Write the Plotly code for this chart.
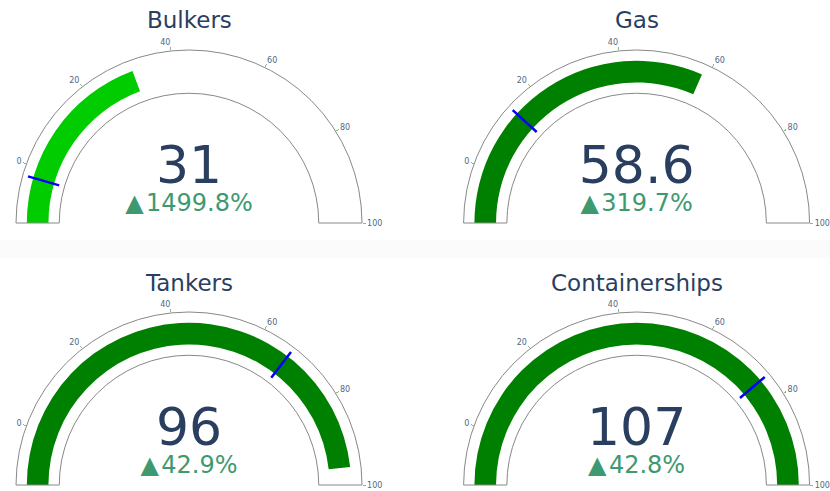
import plotly.graph_objects as go

categories = ["Bulkers", "Gas", "Tankers", "Containerships"]
values = [31, 58.6, 96, 107]
references = [1.9377, 13.962, 67.18, 74.93]
thresholds = [-2.4, 13.962, 67.18, 74.93]
bar_colors = ["#00cc00", "green", "green", "green"]
axis_range = [-12.5, 100]
tick_values = [0, 20, 40, 60, 80, 100]

FONT = "DejaVu Sans, Verdana, sans-serif"
W, H = 830, 491
ML, MR, MT, MB = 0, 0, 50, 6
pw, ph = W - ML - MR, H - MT - MB

centers_x = [189, 636.6]
half_w = 178
rows_px = [(50, 223), (312, 485)]
title_y_px = [20, 283]


def xdom(cx):
    return [(cx - half_w - ML) / pw, (cx + half_w - ML) / pw]


def ydom(top, bottom):
    return [(H - MB - bottom) / ph, (H - MB - top) / ph]


fig = go.Figure()
annotations = []
for i, name in enumerate(categories):
    r, c = divmod(i, 2)
    fig.add_trace(go.Indicator(
        mode="gauge+number+delta",
        value=values[i],
        number={"font": {"size": 52, "color": "#2a3f5f", "family": FONT}},
        delta={"reference": references[i], "relative": True,
               "valueformat": ".1%", "font": {"size": 24, "family": FONT},
               "increasing": {"color": "#3D9970", "symbol": "\u25B2\u200A"}},
        domain={"x": xdom(centers_x[c]), "y": ydom(*rows_px[r])},
        gauge={
            "shape": "angular",
            "axis": {"range": axis_range, "tickvals": tick_values,
                     "tickcolor": "#7fbf7f", "ticklen": 3, "tickwidth": 1,
                     "tickfont": {"size": 8, "color": "#506784", "family": FONT}},
            "bar": {"color": bar_colors[i], "thickness": 0.5},
            "bgcolor": "white",
            "borderwidth": 1,
            "bordercolor": "#888888",
            "threshold": {"line": {"color": "blue", "width": 2.5},
                          "thickness": 0.75, "value": thresholds[i]},
        },
    ))
    annotations.append(dict(
        text=name, xref="paper", yref="paper", showarrow=False,
        x=(centers_x[c] - ML) / pw, y=(H - MB - title_y_px[r]) / ph,
        xanchor="center", yanchor="middle",
        font=dict(size=23, color="#2a3f5f", family=FONT),
    ))

fig.update_layout(
    width=W, height=H,
    margin=dict(l=ML, r=MR, t=MT, b=MB),
    paper_bgcolor="white",
    font=dict(family=FONT, color="#2a3f5f"),
    annotations=annotations,
    shapes=[dict(type="rect", xref="paper", yref="paper", layer="below",
                 x0=0, x1=1, y0=(H - MB - 258) / ph, y1=(H - MB - 240) / ph,
                 fillcolor="#fbfbfb", line=dict(width=0))],
)

fig.write_html("out.html", config={"displayModeBar": False},
               post_script="document.body.style.margin='0px';")
